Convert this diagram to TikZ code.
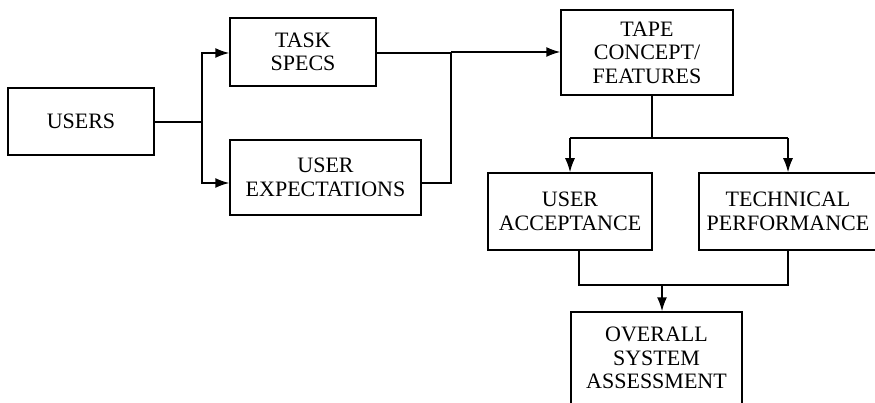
\documentclass[tikz,border=0pt]{standalone}
\usepackage{fontspec}
\setmainfont{Liberation Serif}
\usetikzlibrary{arrows.meta}
\begin{document}
\begin{tikzpicture}[x=1pt,y=-1pt,
  box/.style={draw, line width=1.5pt, inner sep=0pt, align=center,
    font=\fontsize{22}{23.5}\selectfont},
  link/.style={line width=1.5pt},
  arr/.style={line width=1.5pt, -{Latex[length=14pt,width=10pt]}}]
\useasboundingbox (0,0) rectangle (875,403);
\clip (0,0) rectangle (875,403);

% boxes
\node[box, minimum width=146pt, minimum height=67pt] (users) at (81,121.5) {USERS};
\node[box, minimum width=146pt, minimum height=68pt] (task) at (303,52) {TASK\\SPECS};
\node[box, minimum width=191pt, minimum height=75pt] (expect) at (325.5,177.5) {USER\\EXPECTATIONS};
\node[box, minimum width=172pt, minimum height=85pt] (tape) at (647,52.5) {TAPE\\CONCEPT/\\FEATURES};
\node[box, minimum width=164pt, minimum height=77pt] (accept) at (570,211.5) {USER\\ACCEPTANCE};
\node[box, minimum width=178pt, minimum height=77pt] (perf) at (788,211.5) {TECHNICAL\\PERFORMANCE};
\node[box, minimum width=171pt, minimum height=92pt] (overall) at (656.5,358) {OVERALL\\SYSTEM\\ASSESSMENT};

% junction points
\coordinate (split) at (202,122);
\coordinate (merge) at (451,52);
\coordinate (fan) at (652,138);
\coordinate (join) at (662,285);

% users to task specs and expectations
\draw[link] (users.east |- split) -- (split);
\draw[arr] (split) |- (task.west |- 0,53);
\draw[arr] (split) |- (expect.west |- 0,183);

% task specs and expectations to tape concept
\draw[link] (task.east |- 0,53) -| (merge);
\draw[link] (expect.east |- 0,183) -| (merge);
\draw[arr] (merge) -- (tape.west |- merge);

% tape concept to the two evaluations
\draw[link] (tape.south -| fan) -- (fan);
\draw[link] (accept.north |- fan) -- (perf.north |- fan);
\draw[arr] (accept.north |- fan) -- (accept.north);
\draw[arr] (perf.north |- fan) -- (perf.north);

% evaluations to overall assessment
\draw[link] (accept.south -| 579,0) |- (join);
\draw[link] (perf.south) |- (join);
\draw[arr] (join) -- (overall.north -| join);
\end{tikzpicture}
\end{document}
